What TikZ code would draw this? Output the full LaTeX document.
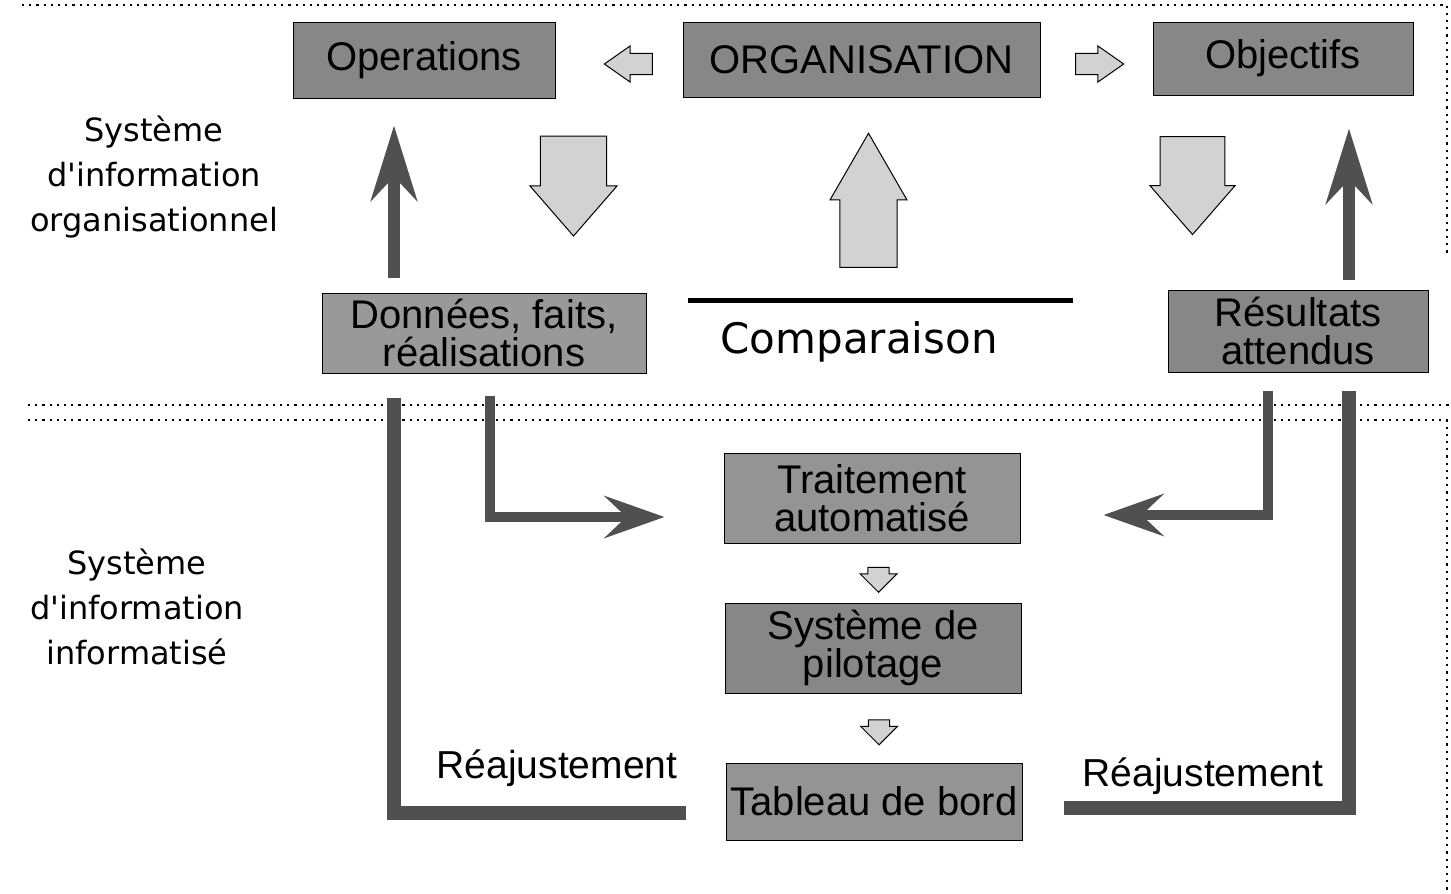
\documentclass[tikz,border=0pt]{standalone}
\usepackage{fontspec}
\setmainfont{Liberation Sans}
\newfontfamily\labelfont{DejaVu Sans}
\usetikzlibrary{shapes.arrows, arrows.meta, positioning, calc}
\definecolor{boxgray}{RGB}{135,135,135}
\definecolor{linegray}{RGB}{80,80,80}
\definecolor{arrowgray}{RGB}{210,210,210}

\begin{document}
\begin{tikzpicture}[x=1pt, y=-1pt,
    box/.style={rectangle, draw, line width=1pt, fill=boxgray, inner sep=0pt, align=center, font=\fontsize{40}{38}\selectfont},
    bigarrow/.style={single arrow, draw, line width=1pt, fill=arrowgray, inner xsep=0pt},
    darrow/.style={-{Stealth[length=75pt, width=46pt, inset=24pt]}, line width=12pt, draw=linegray, color=linegray},
    inarrow/.style={-{Stealth[length=60pt, width=42pt, inset=22pt]}, line width=10pt, draw=linegray, color=linegray},
    feed/.style={line width=14pt, draw=linegray},
    sep/.style={line width=2.2pt, dash pattern=on 2.2pt off 5pt},
    side/.style={font=\labelfont\fontsize{32}{45}\selectfont, align=center},
    reaj/.style={font=\fontsize{39}{39}\selectfont, anchor=base}
]
\useasboundingbox (0,0) rectangle (1451,894);

% separations
\draw[sep] (22,5) -- (1447,5) -- (1447,255);
\draw[sep] (28,405) -- (1451,405);
\draw[sep] (28,420) -- (1447,420) -- (1447,890);

\node[side] (siorg) at (154,177) {Système\\d\textquotesingle information\\organisationnel};
\node[side] (siinf) at (137,607) {Système\\d\textquotesingle information\\informatisé};

% systeme organisationnel
\node[box, minimum width=262pt, minimum height=76pt] (ops) at (424,60) {Operations};
\node[box, minimum width=357pt, minimum height=75pt] (org) at (861.5,59.5) {ORGANISATION};
\node[box, minimum width=260pt, minimum height=73pt] (obj) at (1283,58.5) {Objectifs};
\node[box, fill=boxgray!85, minimum width=324pt, minimum height=80pt] (don) at (484,333) {Données, faits,\\réalisations};
\node[box, minimum width=260pt, minimum height=82pt] (res) at (1298,331) {Résultats\\attendus};
\node[font=\labelfont\fontsize{42}{42}\selectfont] (comp) at (859,342) {Comparaison};
\draw[line width=5pt] (688,300) -- (1073,300);

\node[bigarrow, rotate=180, minimum height=48pt, minimum width=36pt, inner ysep=10pt, single arrow tip angle=70] (toops) at (636,64) {};
\node[bigarrow, minimum height=48pt, minimum width=36pt, inner ysep=10pt, single arrow tip angle=70] (toobj) at (1092,64) {};
\node[bigarrow, rotate=-90, minimum height=100pt, minimum width=87pt, inner ysep=22pt, single arrow tip angle=82] (downL) at (573.5,167) {};
\node[bigarrow, rotate=90, minimum height=134pt, minimum width=77pt, inner ysep=20pt, single arrow tip angle=60] (uporg) at (868.5,225) {};
\node[bigarrow, rotate=-90, minimum height=98pt, minimum width=85pt, inner ysep=22pt, single arrow tip angle=82] (downR) at (1192.5,167) {};

% systeme informatise
\node[box, fill=boxgray!110!black, minimum width=296pt, minimum height=90pt] (trt) at (872,498) {Traitement\\automatisé};
\node[box, minimum width=296pt, minimum height=90pt] (pil) at (873,648) {Système de\\pilotage};
\node[box, fill=boxgray!110!black, minimum width=296pt, minimum height=77pt] (tdb) at (874,801.5) {Tableau de bord};

\node[bigarrow, rotate=-90, minimum height=25pt, minimum width=37pt, inner ysep=9pt, single arrow tip angle=90] (trtpil) at (878.5,574.5) {};
\node[bigarrow, rotate=-90, minimum height=25pt, minimum width=37pt, inner ysep=9pt, single arrow tip angle=90] (piltdb) at (879,727) {};

\node[reaj] (reajL) at (557,778) {Réajustement};
\node[reaj] (reajR) at (1203,786) {Réajustement};

\coordinate (colL) at (394,0);
\coordinate (colR) at (1349,0);

\draw[darrow, shorten <=15pt, shorten >=27pt] (don.north -| colL) -- (ops.south -| colL);
\draw[darrow, shorten <=10pt, shorten >=33pt] (res.north -| colR) -- (obj.south -| colR);
\draw[inarrow, shorten <=22pt, shorten >=59pt] ([xshift=6pt]don.south) |- ([yshift=-19pt]trt.west);
\draw[inarrow, shorten <=18pt, shorten >=83pt] ([xshift=-30pt]res.south) |- ([yshift=-17pt]trt.east);
\draw[feed, shorten <=24pt, shorten >=40pt] (don.south -| colL) |- ([yshift=-11.5pt]tdb.west);
\draw[feed, shorten <=18pt, shorten >=41pt] (res.south -| colR) |- ([yshift=-6.5pt]tdb.east);
\end{tikzpicture}
\end{document}
